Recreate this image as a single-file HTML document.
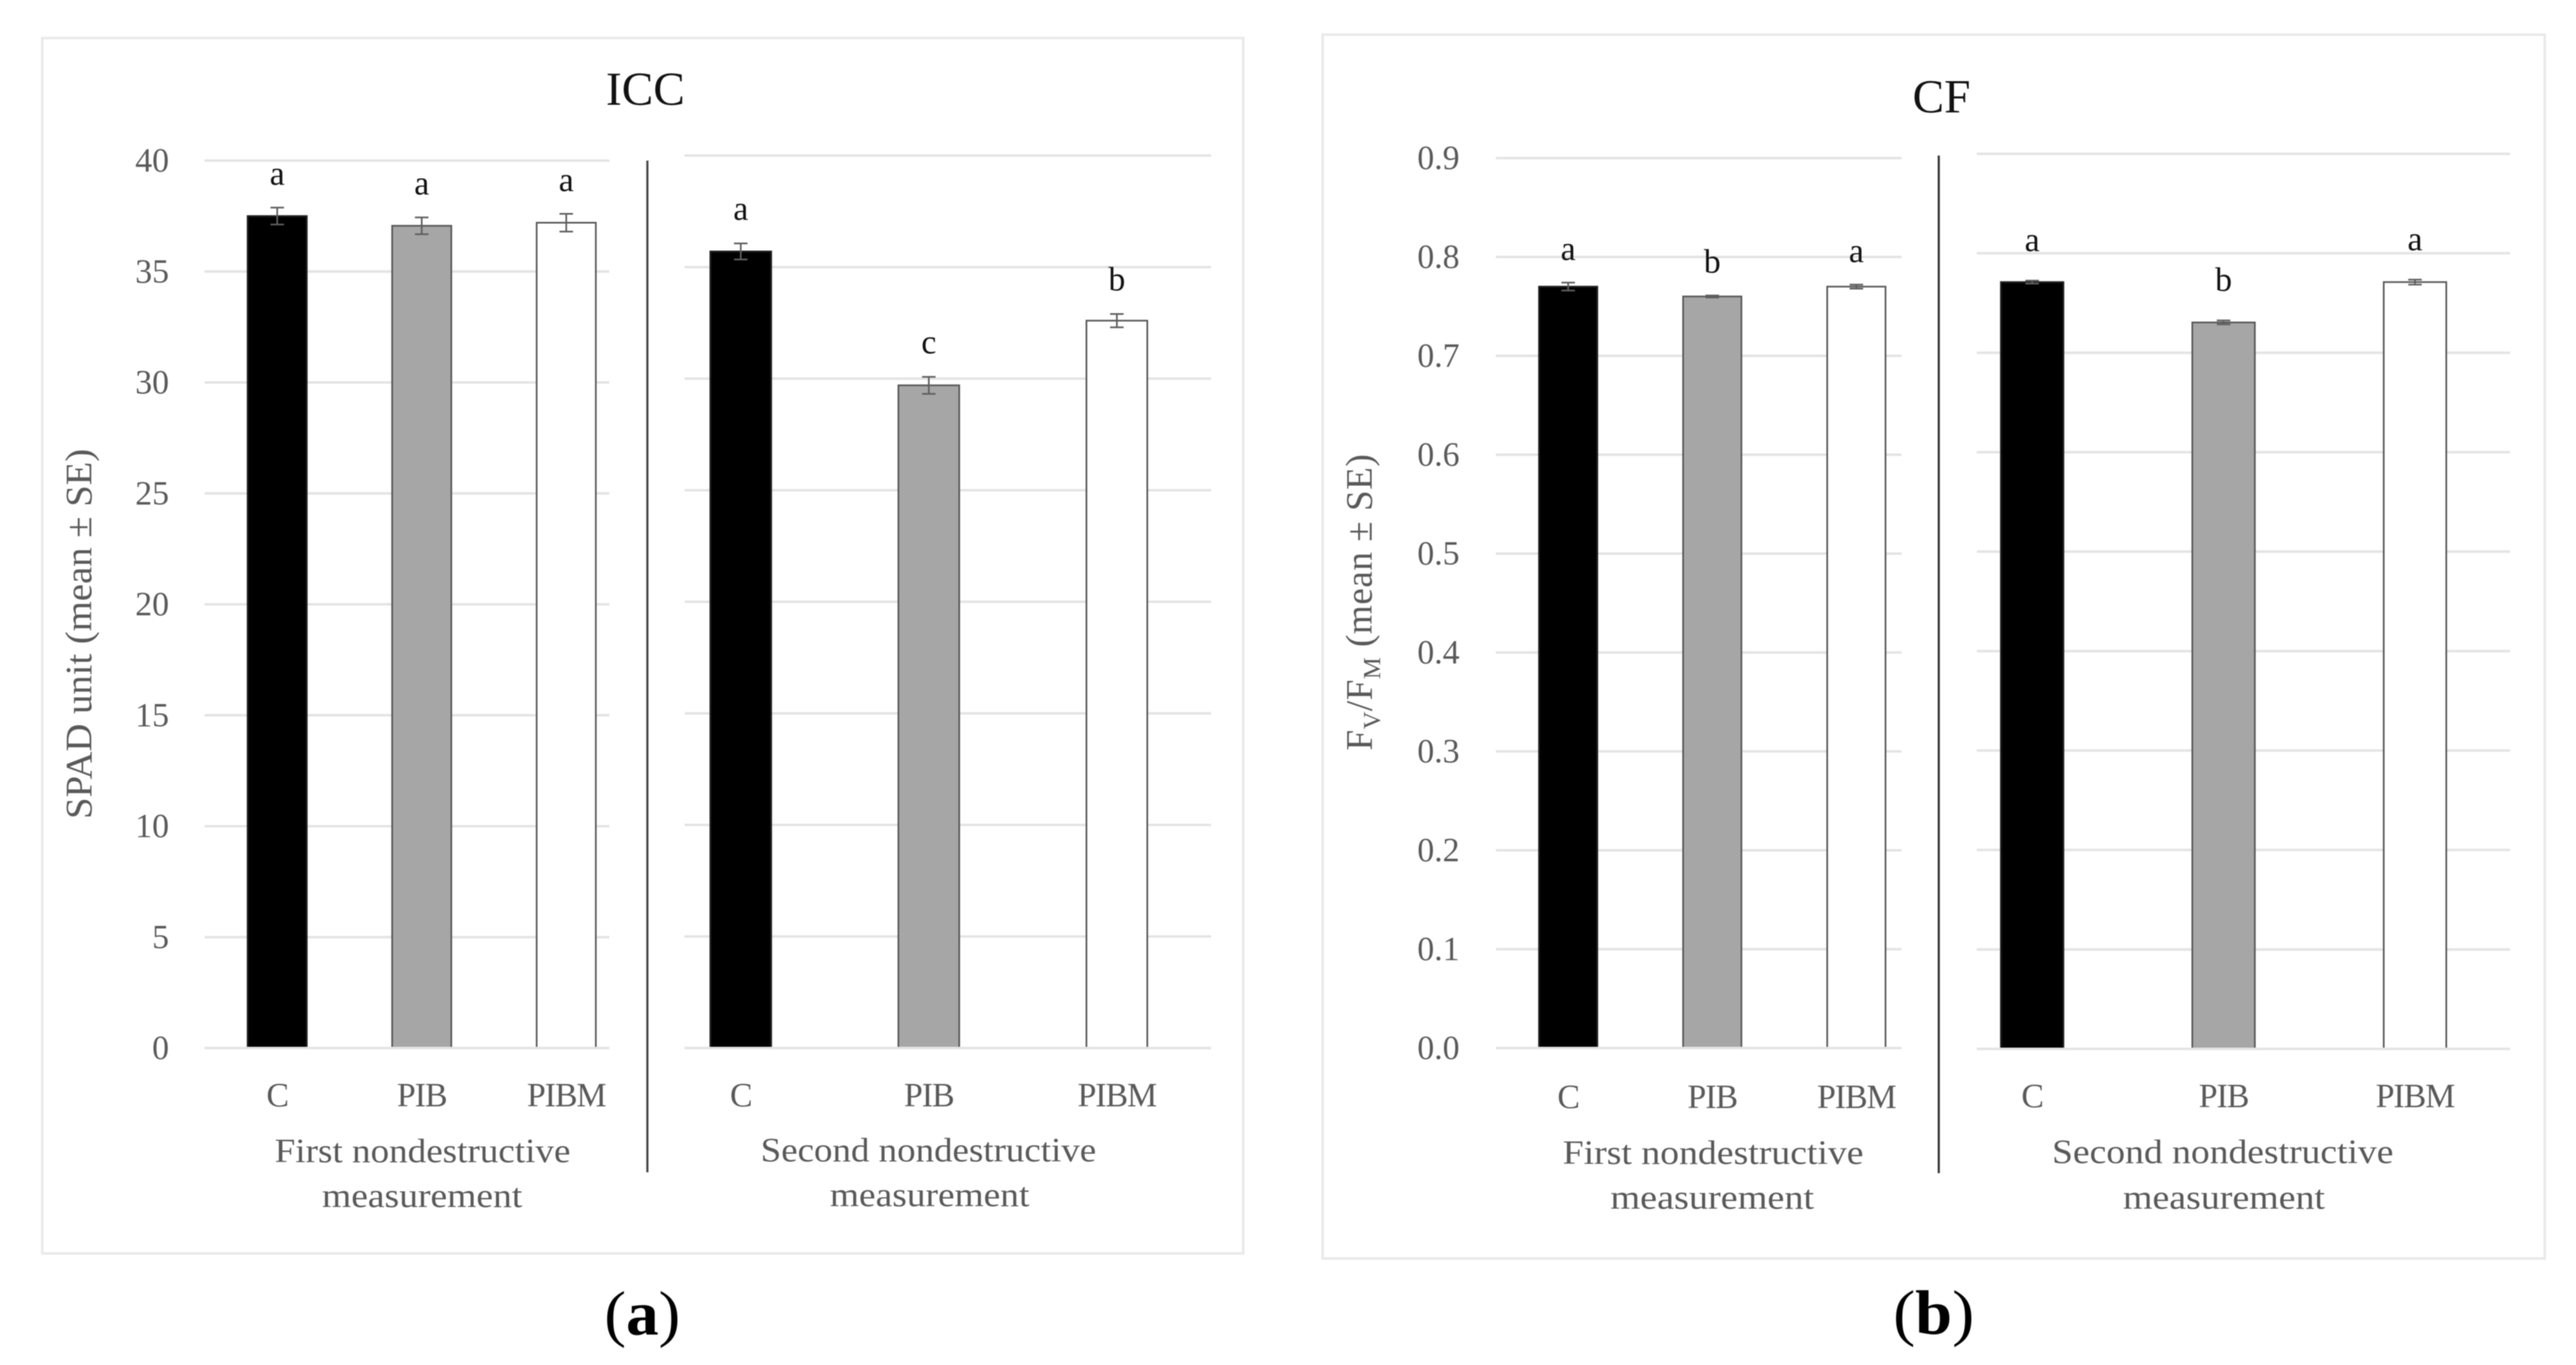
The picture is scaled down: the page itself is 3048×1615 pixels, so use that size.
<!DOCTYPE html>
<html lang="en">
<head>
<meta charset="utf-8">
<title>ICC and CF bar charts</title>
<style>
  html, body { margin: 0; padding: 0; background: #fff; width: 3048px; height: 1615px; overflow: hidden; }
  svg { display: block; filter: blur(0.6px); }
  text { font-family: "Liberation Serif", serif; }
  .tick { font-size: 40px; fill: #595959; }
  .cat { font-size: 40px; fill: #595959; letter-spacing: -1.2px; }
  .group { font-size: 40px; fill: #595959; }
  .axis-title { font-size: 44px; fill: #595959; }
  .title { font-size: 56px; fill: #111; }
  .letter { font-size: 40px; fill: #111; }
  .panel-label { font-size: 74px; fill: #000; }
</style>
</head>
<body>
<svg id="figure" xmlns="http://www.w3.org/2000/svg" width="3048" height="1615" viewBox="0 0 3048 1615">
  <rect x="50" y="45" width="1421" height="1438" fill="#fff" stroke="#e9e9e9" stroke-width="3"/>
  <rect x="1565" y="41" width="1446" height="1448" fill="#fff" stroke="#e9e9e9" stroke-width="3"/>

  <text class="title" x="717" y="124">ICC</text>
  <text class="title" x="2263" y="133">CF</text>

  <text class="axis-title" transform="translate(108,969) rotate(-90)" textLength="438" lengthAdjust="spacingAndGlyphs">SPAD unit (mean ± SE)</text>
  <text class="axis-title" transform="translate(1623,888) rotate(-90)" style="letter-spacing:.6px">F<tspan font-size="29" dy="10">V</tspan><tspan dy="-10">/F</tspan><tspan font-size="29" dy="10">M</tspan><tspan dy="-10"> (mean ± SE)</tspan></text>

  <line x1="766" x2="766" y1="190" y2="1387" stroke="#404040" stroke-width="2.5"/>
  <line x1="2294" x2="2294" y1="184" y2="1388" stroke="#303030" stroke-width="2.5"/>

  <text class="group" x="500" y="1375" text-anchor="middle" textLength="350" lengthAdjust="spacingAndGlyphs">First nondestructive</text>
  <text class="group" x="499.5" y="1428" text-anchor="middle" textLength="237" lengthAdjust="spacingAndGlyphs">measurement</text>
  <text class="group" x="1098.5" y="1374" text-anchor="middle" textLength="397" lengthAdjust="spacingAndGlyphs">Second nondestructive</text>
  <text class="group" x="1100" y="1427" text-anchor="middle" textLength="236" lengthAdjust="spacingAndGlyphs">measurement</text>

  <text class="group" x="2027" y="1377" text-anchor="middle" textLength="356" lengthAdjust="spacingAndGlyphs">First nondestructive</text>
  <text class="group" x="2026" y="1430" text-anchor="middle" textLength="241" lengthAdjust="spacingAndGlyphs">measurement</text>
  <text class="group" x="2630" y="1376" text-anchor="middle" textLength="404" lengthAdjust="spacingAndGlyphs">Second nondestructive</text>
  <text class="group" x="2631.5" y="1430" text-anchor="middle" textLength="239" lengthAdjust="spacingAndGlyphs">measurement</text>

  <text class="panel-label" x="715" y="1579" textLength="90" lengthAdjust="spacingAndGlyphs">(<tspan font-weight="bold">a</tspan>)</text>
  <text class="panel-label" x="2240" y="1578" textLength="96" lengthAdjust="spacingAndGlyphs">(<tspan font-weight="bold">b</tspan>)</text>

  <g id="marks"></g>
</svg>

<script>
const categories = ['C', 'PIB', 'PIBM'];
const barFills = ['#000000', '#a6a6a6', '#ffffff'];

const iccTickLabels = ['0', '5', '10', '15', '20', '25', '30', '35', '40'];
const cfTickLabels = ['0.0', '0.1', '0.2', '0.3', '0.4', '0.5', '0.6', '0.7', '0.8', '0.9'];

const iccFirstValues = [37.5, 37.06, 37.2];
const iccFirstErrors = [0.38, 0.38, 0.4];
const iccFirstLetters = ['a', 'a', 'a'];

const iccSecondValues = [35.7, 29.7, 32.6];
const iccSecondErrors = [0.36, 0.38, 0.3];
const iccSecondLetters = ['a', 'c', 'b'];

const cfFirstValues = [0.77, 0.76, 0.77];
const cfFirstErrors = [0.004, 0.001, 0.002];
const cfFirstLetters = ['a', 'b', 'a'];

const cfSecondValues = [0.771, 0.7305, 0.771];
const cfSecondErrors = [0.0015, 0.002, 0.0025];
const cfSecondLetters = ['a', 'b', 'a'];

const SVG_NS = 'http://www.w3.org/2000/svg';
const marks = document.getElementById('marks');

function make(tag, attrs) {
  const node = document.createElementNS(SVG_NS, tag);
  Object.keys(attrs).forEach(function (k) { node.setAttribute(k, attrs[k]); });
  marks.appendChild(node);
  return node;
}

function drawGroup(prefix, cfg, ticks, values, errors, letters) {
  const axisMax = parseFloat(ticks[ticks.length - 1]);
  const yScale = function (v) { return cfg.yBottom - (v / axisMax) * (cfg.yBottom - cfg.yTop); };
  const xScale = function (i) { return cfg.firstCenter + i * cfg.step; };

  ticks.forEach(function (label) {
    const v = parseFloat(label);
    const grid = make('line', { x1: cfg.gridLeft, x2: cfg.gridRight, y1: yScale(v), y2: yScale(v), stroke: '#e4e4e4', 'stroke-width': 3 });
    
    
    if (cfg.tickRight) {
      const tick = make('text', { x: cfg.tickRight, y: yScale(v) + 13, 'text-anchor': 'end', class: 'tick' });
      tick.textContent = label;
      
      
    }
  });

  values.forEach(function (v, i) {
    const cx = xScale(i);
    const top = yScale(v);
    const left = cx - cfg.barWidth / 2;
    const right = cx + cfg.barWidth / 2;
    const base = cfg.yBottom - 1.5;

    const bar = make('path', {
      d: 'M' + left + ' ' + base + 'V' + top + 'H' + right + 'V' + base,
      fill: barFills[i], stroke: i === 0 ? '#222' : '#595959', 'stroke-width': 2
    });
    
    

    const hi = yScale(v + errors[i]);
    const lo = yScale(v - errors[i]);
    const err = make('path', {
      d: 'M' + (cx - 8) + ' ' + hi + 'H' + (cx + 8) + 'M' + cx + ' ' + hi + 'V' + lo + 'M' + (cx - 8) + ' ' + lo + 'H' + (cx + 8),
      fill: 'none', stroke: '#5f5f5f', 'stroke-width': 2
    });
    
    

    const letter = make('text', { x: cx, y: hi - cfg.letterGap, 'text-anchor': 'middle', class: 'letter' });
    letter.textContent = letters[i];
    
    

    const cat = make('text', { x: cx, y: cfg.catBaseline, 'text-anchor': 'middle', class: 'cat' });
    cat.textContent = categories[i];
    
    
  });
}

drawGroup('icc-first',
  { yTop: 190, yBottom: 1240, gridLeft: 242, gridRight: 721, tickRight: 200, firstCenter: 328, step: 171, barWidth: 70, letterGap: 27, catBaseline: 1309 },
  iccTickLabels, iccFirstValues, iccFirstErrors, iccFirstLetters);

drawGroup('icc-second',
  { yTop: 184, yBottom: 1240, gridLeft: 810, gridRight: 1433, tickRight: 0, firstCenter: 876.5, step: 222.5, barWidth: 72, letterGap: 28, catBaseline: 1309 },
  iccTickLabels, iccSecondValues, iccSecondErrors, iccSecondLetters);

drawGroup('cf-first',
  { yTop: 187, yBottom: 1240, gridLeft: 1770, gridRight: 2250, tickRight: 1727, firstCenter: 1855.5, step: 170.5, barWidth: 69, letterGap: 27, catBaseline: 1311 },
  cfTickLabels, cfFirstValues, cfFirstErrors, cfFirstLetters);

drawGroup('cf-second',
  { yTop: 182, yBottom: 1241, gridLeft: 2339, gridRight: 2970, tickRight: 0, firstCenter: 2404.5, step: 226.5, barWidth: 74, letterGap: 35, catBaseline: 1310 },
  cfTickLabels, cfSecondValues, cfSecondErrors, cfSecondLetters);
</script>
</body>
</html>
